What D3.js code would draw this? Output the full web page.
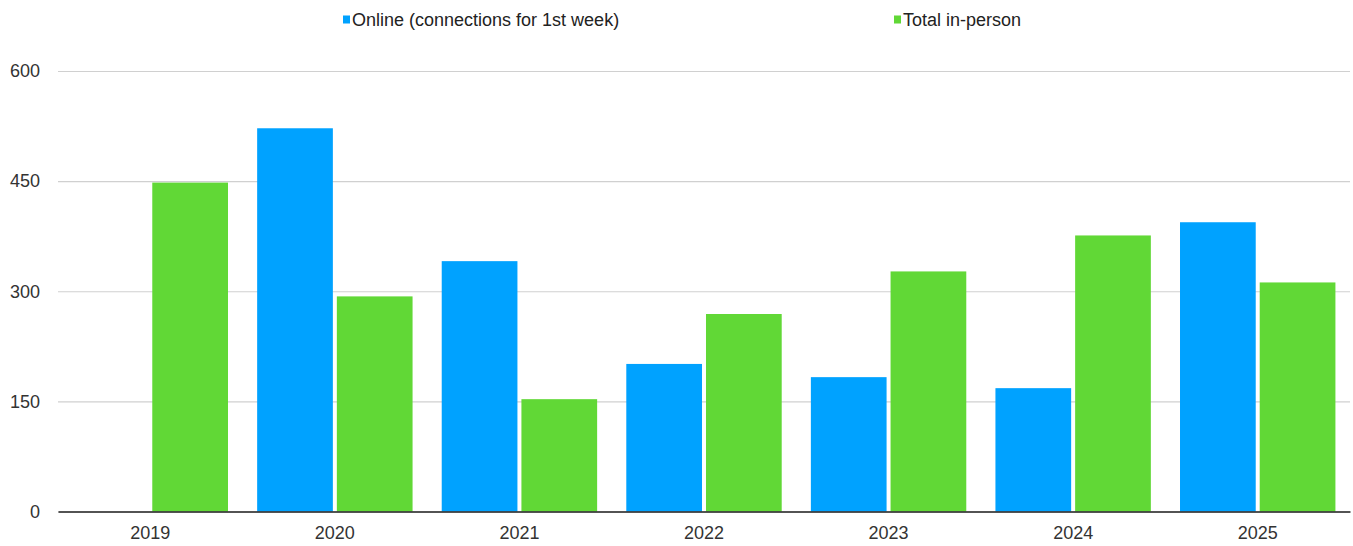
<!DOCTYPE html>
<html>
<head>
<meta charset="utf-8">
<script src="https://cdn.jsdelivr.net/npm/d3@7"></script>
<style>
  body { margin: 0; background: #fff; }
  text { font-family: "Liberation Sans", Arial, sans-serif; }
</style>
</head>
<body>
<div id="chart"></div>
<script>
// data
let years = ["2019", "2020", "2021", "2022", "2023", "2024", "2025"];
let online = [null, 522, 341, 201, 183, 168, 394];
let inPerson = [448, 293, 153, 269, 327, 376, 312];
let seriesNames = ["Online (connections for 1st week)", "Total in-person"];
let yTicks = [0, 150, 300, 450, 600];

let colors = ["#00a2ff", "#61d836"];

let svgWidth = 1353;
let svgHeight = 546;

let margin = { top: 71, right: 3, bottom: 34.5, left: 58 };
let chartWidth = svgWidth - margin.left - margin.right;
let chartHeight = svgHeight - margin.top - margin.bottom;

let svg = d3.select("#chart")
  .append("svg")
  .attr("width", svgWidth)
  .attr("height", svgHeight);

let x = d3.scaleBand()
  .domain(years)
  .range([0, chartWidth])
  .paddingInner(0.158)
  .paddingOuter(0.079);

let x1 = d3.scaleBand()
  .domain([0, 1])
  .range([0, x.bandwidth()])
  .paddingInner(0.05);

let y = d3.scaleLinear()
  .domain([0, 600])
  .range([chartHeight, 0]);

let g = svg.append("g")
  .attr("transform", "translate(" + margin.left + ", " + margin.top + ")");

// grid lines
g.append("g")
  .call(d3.axisLeft(y).tickValues(yTicks).tickSize(-chartWidth).tickFormat(""))
  .call(a => a.select(".domain").remove())
  .call(a => a.selectAll("line").attr("stroke", "#d0d0d0").attr("stroke-width", 1.2));

// y labels
g.append("g")
  .call(d3.axisLeft(y).tickValues(yTicks).tickSize(0).tickPadding(18))
  .call(a => a.select(".domain").remove())
  .call(a => a.selectAll("text")
    .attr("font-size", 18)
    .attr("fill", "#333")
    .style("font-family", "'Liberation Sans', Arial, sans-serif"));

let rows = years.map((yr, i) => ({ year: yr, values: [online[i], inPerson[i]] }));

let groups = g.selectAll(".grp")
  .data(rows)
  .enter()
  .append("g")
  .attr("class", "grp")
  .attr("transform", d => "translate(" + x(d.year) + ",0)");

groups.selectAll("rect")
  .data(d => d.values.map((v, k) => ({ k: k, v: v })).filter(d => d.v != null))
  .enter()
  .append("rect")
  .attr("x", d => x1(d.k))
  .attr("width", x1.bandwidth())
  .attr("y", d => y(d.v))
  .attr("height", d => chartHeight - y(d.v))
  .attr("fill", d => colors[d.k]);

// x axis
g.append("g")
  .attr("transform", "translate(0," + chartHeight + ")")
  .call(d3.axisBottom(x).tickSize(0).tickPadding(14.5))
  .call(a => a.select(".domain").attr("stroke", "#222").attr("stroke-width", 1.4))
  .call(a => a.selectAll("text")
    .attr("font-size", 18)
    .attr("fill", "#333")
    .style("font-family", "'Liberation Sans', Arial, sans-serif"));

// legend
let legendX = [343, 894];
let legend = svg.selectAll(".leg")
  .data(seriesNames)
  .enter()
  .append("g")
  .attr("class", "leg")
  .attr("transform", (d, i) => "translate(" + legendX[i] + ", 19.5)");

legend.append("rect")
  .attr("x", 0)
  .attr("y", -4)
  .attr("width", 7)
  .attr("height", 8)
  .attr("fill", (d, i) => colors[i]);

legend.append("text")
  .attr("x", 9)
  .attr("dy", "0.35em")
  .attr("font-size", 18)
  .attr("fill", "#222")
  .text(d => d);
</script>
</body>
</html>
